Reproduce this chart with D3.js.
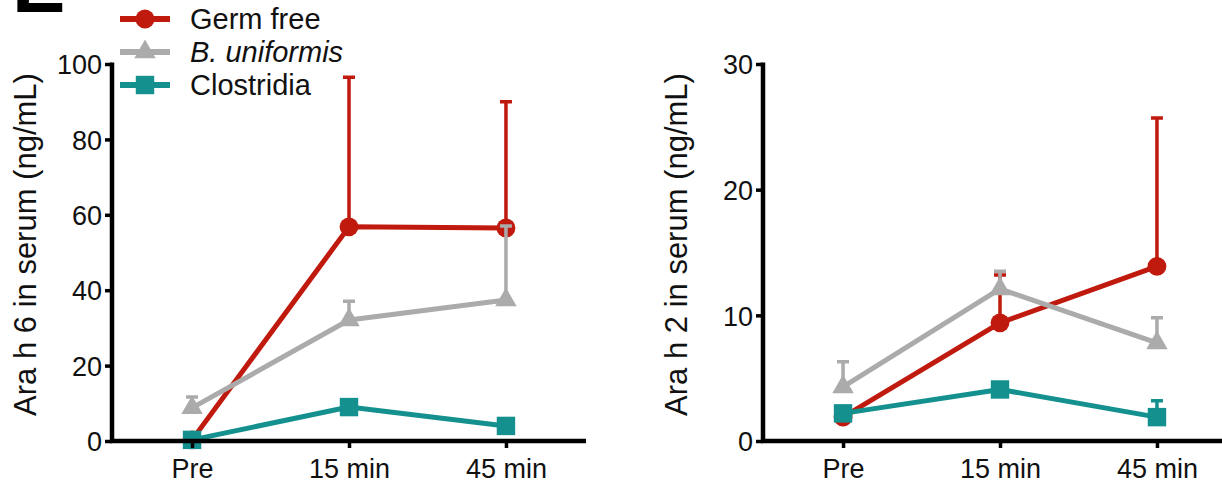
<!DOCTYPE html>
<html>
<head>
<meta charset="utf-8">
<script src="https://cdn.jsdelivr.net/npm/d3@7"></script>
<style>
  body { margin: 0; background: #fff; }
  svg { display: block; font-family: "Liberation Sans", Arial, sans-serif; }
</style>
</head>
<body>
<div id="chart"></div>
<script>
// categories and series
var timepoints = ["Pre", "15 min", "45 min"];
var seriesNames = ["Germ free", "B. uniformis", "Clostridia"];

// Ara h 6 (ng/mL): means and upper error
var h6GermFree = [0.3, 56.8, 56.5];
var h6GermFreeErr = [0.5, 39.7, 33.5];
var h6Bunif = [8.8, 32.1, 37.4];
var h6BunifErr = [2.9, 5.0, 19.6];
var h6Clos = [0.3, 9.0, 4.0];
var h6ClosErr = [0.3, 1.0, 1.0];

// Ara h 2 (ng/mL)
var h2GermFree = [1.9, 9.4, 13.9];
var h2GermFreeErr = [0.2, 3.8, 11.8];
var h2Bunif = [4.3, 12.1, 7.8];
var h2BunifErr = [2.0, 1.4, 2.0];
var h2Clos = [2.2, 4.1, 1.9];
var h2ClosErr = [0.2, 0.3, 1.3];

var h6Ticks = [0, 20, 40, 60, 80, 100];
var h2Ticks = [0, 10, 20, 30];

var colors = { "Germ free": "#c01a0e", "B. uniformis": "#ababab", "Clostridia": "#14918f" };
var shapes = { "Germ free": d3.symbolCircle, "B. uniformis": d3.symbolTriangle, "Clostridia": d3.symbolSquare };
var sizes = { "Germ free": 280, "B. uniformis": 200, "Clostridia": 340 };

var W = 1222, H = 487;
var svg = d3.select("#chart").append("svg").attr("width", W).attr("height", H);

// panel letter, mostly cut off by the top edge (as in the source figure)
svg.append("text").attr("x", 12).attr("y", 12)
    .attr("font-size", 80).attr("font-weight", "bold").attr("fill", "#000").text("E");

function drawPanel(left, title, yMax, ticks, data) {
    var top = 64, bottom = 441, width = 474;
    var g = svg.append("g").attr("transform", "translate(" + left + ",0)");

    var x = d3.scalePoint().domain(timepoints).range([0, width]).padding(0.51);
    var y = d3.scaleLinear().domain([0, yMax]).range([bottom, top]);

    // series: lines, error bars, markers
    var line = d3.line()
        .x(function (d) { return x(d.t); })
        .y(function (d) { return y(d.v); });

    data.forEach(function (s) {
        var pts = timepoints.map(function (t, i) { return { t: t, v: s.values[i], e: s.err[i] }; });
        var c = colors[s.name];
        var sg = g.append("g");
        sg.append("path").datum(pts)
            .attr("fill", "none").attr("stroke", c).attr("stroke-width", 5)
            .attr("stroke-linejoin", "round").attr("d", line);
        sg.selectAll(".eb").data(pts).enter().append("path")
            .attr("fill", "none").attr("stroke", c).attr("stroke-width", 3.5)
            .attr("d", function (d) {
                var px = x(d.t), y0 = y(d.v), y1 = y(d.v + d.e);
                return "M" + px + "," + y0 + "V" + y1 + "M" + (px - 6) + "," + y1 + "H" + (px + 6);
            });
        sg.selectAll(".mk").data(pts).enter().append("path")
            .attr("fill", c)
            .attr("transform", function (d) { return "translate(" + x(d.t) + "," + y(d.v) + ")"; })
            .attr("d", d3.symbol().type(shapes[s.name]).size(sizes[s.name]));
    });

    // axes
    var yAxis = d3.axisLeft(y).tickValues(ticks).tickSize(7).tickPadding(3);
    var gy = g.append("g").call(yAxis);
    gy.select(".domain").attr("d", "M0," + (top - 1.5) + "V" + (bottom + 2)).attr("stroke-width", 4.5);
    gy.selectAll(".tick line").attr("stroke-width", 3.5);
    gy.selectAll(".tick text").attr("font-size", 27).attr("fill", "#111").attr("dy", "0.36em");

    var xAxis = d3.axisBottom(x).tickSize(7).tickPadding(11);
    var gx = g.append("g").attr("transform", "translate(0," + bottom + ")").call(xAxis);
    gx.select(".domain").attr("d", "M-2,0H" + width).attr("stroke-width", 4.5);
    gx.selectAll(".tick line").attr("stroke-width", 3.5);
    gx.selectAll(".tick text").attr("font-size", 27).attr("fill", "#111");

    g.append("text")
        .attr("transform", "translate(-76," + ((top + bottom) / 2 - 8) + ") rotate(-90)")
        .attr("text-anchor", "middle").attr("font-size", 31).attr("fill", "#111")
        .text(title);
}

drawPanel(112, "Ara h 6 in serum (ng/mL)", 100, h6Ticks, [
    { name: "Germ free", values: h6GermFree, err: h6GermFreeErr },
    { name: "B. uniformis", values: h6Bunif, err: h6BunifErr },
    { name: "Clostridia", values: h6Clos, err: h6ClosErr }
]);

drawPanel(763, "Ara h 2 in serum (ng/mL)", 30, h2Ticks, [
    { name: "Germ free", values: h2GermFree, err: h2GermFreeErr },
    { name: "B. uniformis", values: h2Bunif, err: h2BunifErr },
    { name: "Clostridia", values: h2Clos, err: h2ClosErr }
]);

// legend
var legend = svg.append("g").attr("transform", "translate(120,19)");
seriesNames.forEach(function (name, i) {
    var row = legend.append("g").attr("transform", "translate(0," + (i * 33) + ")");
    row.append("line").attr("x1", 0).attr("x2", 50).attr("y1", 0).attr("y2", 0)
        .attr("stroke", colors[name]).attr("stroke-width", 6);
    row.append("path").attr("transform", "translate(25,0)")
        .attr("fill", colors[name])
        .attr("d", d3.symbol().type(shapes[name]).size(sizes[name]));
    row.append("text").attr("x", 70).attr("y", 0).attr("dy", "0.35em")
        .attr("font-size", 29).attr("fill", "#111")
        .attr("font-style", name === "B. uniformis" ? "italic" : "normal")
        .text(name);
});
</script>
</body>
</html>
